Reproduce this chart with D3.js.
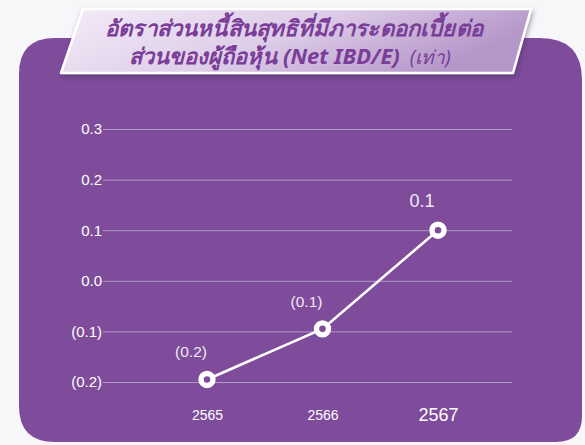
<!DOCTYPE html>
<html lang="th">
<head>
<meta charset="utf-8">
<title>Net IBD/E</title>
<script src="https://d3js.org/d3.v7.min.js"></script>
<style>
  body { margin: 0; background: #f7f7fa; }
  svg { display: block; font-family: "Noto Sans", "Liberation Sans", sans-serif; }
</style>
</head>
<body>
<svg width="585" height="445"></svg>
<script>
// data
const years = ["2565", "2566", "2567"];
const ratios = [-0.195, -0.095, 0.1];
const valueLabels = ["(0.2)", "(0.1)", "0.1"];
const yTicks = [-0.2, -0.1, 0.0, 0.1, 0.2, 0.3];
const yTickLabels = ["(0.2)", "(0.1)", "0.0", "0.1", "0.2", "0.3"];

const svg = d3.select("svg");

const defs = svg.append("defs");
const grad = defs.append("linearGradient").attr("id", "banner").attr("x1", 0).attr("x2", 1).attr("y1", 0).attr("y2", 0.3);
grad.append("stop").attr("offset", "0%").attr("stop-color", "#f4ecf8");
grad.append("stop").attr("offset", "55%").attr("stop-color", "#ddcce8");
grad.append("stop").attr("offset", "100%").attr("stop-color", "#b597c9");
const sh = defs.append("filter").attr("id", "shadow").attr("x", "-10%").attr("y", "-20%").attr("width", "120%").attr("height", "150%");
sh.append("feDropShadow").attr("dx", 1).attr("dy", 3).attr("stdDeviation", 2.5).attr("flood-color", "#3a2250").attr("flood-opacity", 0.45);

// purple panel with uneven corners
const px0 = 19, py0 = 38, px1 = 582, py1 = 442;
const panel = d3.path();
panel.moveTo(px0 + 36, py0);
panel.lineTo(px1 - 42, py0);
panel.quadraticCurveTo(px1, py0, px1, py0 + 42);
panel.lineTo(px1, py1 - 26);
panel.quadraticCurveTo(px1, py1, px1 - 26, py1);
panel.lineTo(px0 + 36, py1);
panel.quadraticCurveTo(px0, py1, px0, py1 - 36);
panel.lineTo(px0, py0 + 36);
panel.quadraticCurveTo(px0, py0, px0 + 36, py0);
svg.append("path").attr("d", panel.toString()).attr("fill", "#7e4c9b");

// title banner (slanted)
const banner = d3.path();
banner.moveTo(83, 9);
banner.lineTo(531, 9);
banner.lineTo(513, 73);
banner.lineTo(61, 73);
banner.closePath();
svg.append("path").attr("d", banner.toString())
  .attr("fill", "url(#banner)")
  .attr("stroke", "#ffffff").attr("stroke-width", 2.5).attr("stroke-linejoin", "round")
  .attr("filter", "url(#shadow)");

const title = svg.append("g").attr("fill", "#7a3d98").attr("font-style", "italic")
  .attr("text-anchor", "middle").attr("font-size", 22);
title.append("text").attr("x", 294).attr("y", 36).attr("font-weight", "bold")
  .attr("textLength", 378).attr("lengthAdjust", "spacingAndGlyphs")
  .text("อัตราส่วนหนี้สินสุทธิที่มีภาระดอกเบี้ยต่อ");
const t2 = title.append("text").attr("x", 290).attr("y", 64);
t2.append("tspan").attr("font-weight", "bold").text("ส่วนของผู้ถือหุ้น (Net IBD/E)");
t2.append("tspan").attr("font-weight", "normal").attr("font-size", 19).text("\u00a0\u00a0(เท่า)");

// scales
const y = d3.scaleLinear().domain([-0.2, 0.3]).range([382, 129]);
const x = d3.scalePoint().domain(years).range([207, 438]);

// grid
const grid = svg.append("g").attr("transform", "translate(103,0)")
  .call(d3.axisLeft(y).tickValues(yTicks).tickSize(-409).tickFormat((d, i) => yTickLabels[i]));
grid.select(".domain").remove();
grid.selectAll(".tick line").attr("stroke", "#b497c8").attr("stroke-width", 1);
grid.selectAll(".tick text").attr("fill", "#ffffff").attr("font-size", 15)
  .attr("x", -1).attr("font-family", "Liberation Sans, sans-serif");

// x labels
const xa = svg.append("g").attr("transform", "translate(0,415)")
  .call(d3.axisBottom(x).tickSize(0));
xa.select(".domain").remove();
xa.selectAll(".tick text").attr("fill", "#ffffff")
  .attr("font-family", "Liberation Sans, sans-serif")
  .attr("font-size", (d, i) => i === years.length - 1 ? 18 : 14)
  .attr("y", 0).attr("dy", "0.35em");

// line
const pts = years.map((yr, i) => [x(yr), y(ratios[i])]);
svg.append("path").attr("d", d3.line()(pts))
  .attr("fill", "none").attr("stroke", "#ffffff").attr("stroke-width", 2.6);

svg.selectAll(".dot").data(pts).enter().append("circle")
  .attr("cx", d => d[0]).attr("cy", d => d[1]).attr("r", 6)
  .attr("fill", "#7e4c9b").attr("stroke", "#ffffff").attr("stroke-width", 5.4);

// value labels
svg.selectAll(".val").data(pts).enter().append("text")
  .attr("x", d => d[0] - 16).attr("y", (d, i) => d[1] - (i === 2 ? 23 : 22))
  .attr("text-anchor", "middle")
  .attr("font-family", "Liberation Sans, sans-serif")
  .attr("font-size", (d, i) => i === 2 ? 18 : 15.5)
  .attr("fill", "#f1e9f6")
  .text((d, i) => valueLabels[i]);
</script>
</body>
</html>
